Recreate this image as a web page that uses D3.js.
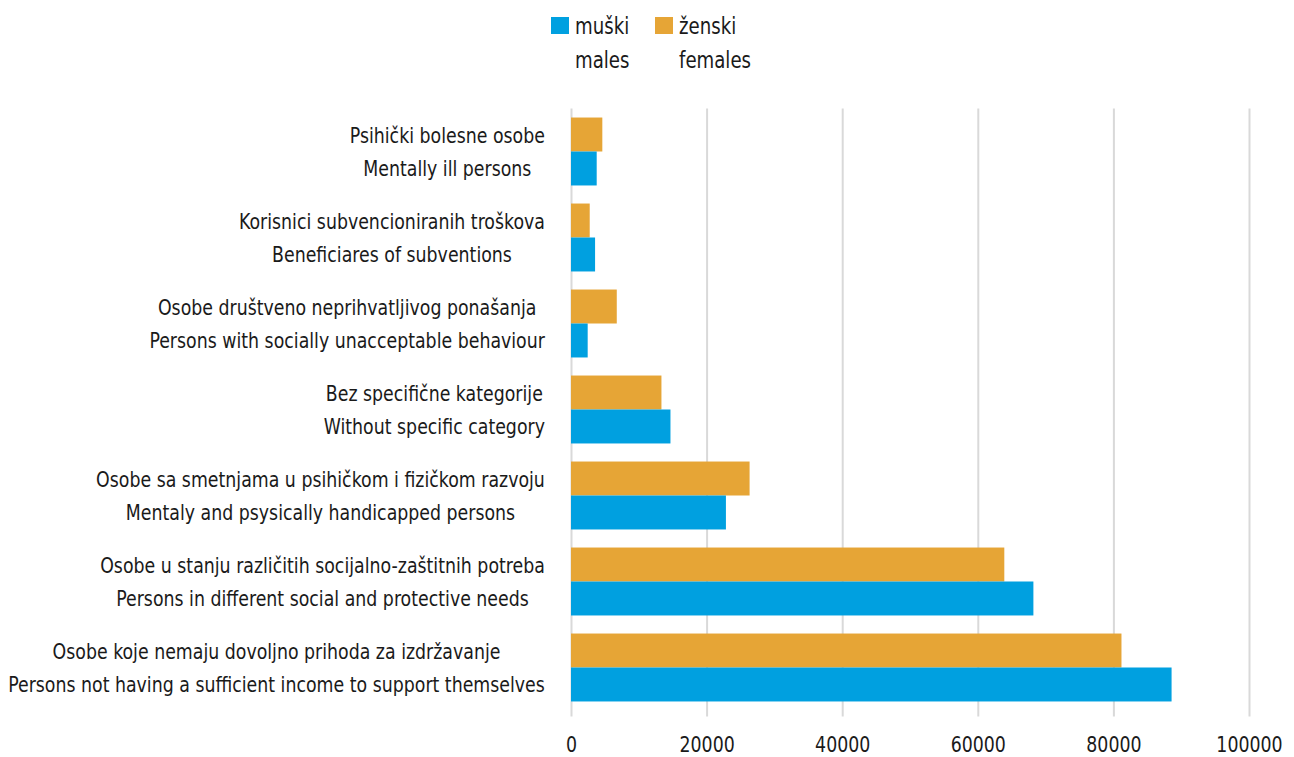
<!DOCTYPE html>
<html>
<head>
<meta charset="utf-8">
<script src="https://cdn.jsdelivr.net/npm/d3@7"></script>
<style>
  body { margin: 0; background: #fff; }
  svg text { font-family: "Liberation Sans Narrow", "DejaVu Sans Condensed", "Roboto Condensed", sans-serif; fill: #1a1a1a; }
</style>
</head>
<body>
<svg id="chart" width="1294" height="757"></svg>
<script>
// categories, two lines each (local language / english)
const categories_hr = [
    "Psihički bolesne osobe",
    "Korisnici subvencioniranih troškova",
    "Osobe društveno neprihvatljivog ponašanja",
    "Bez specifične kategorije",
    "Osobe sa smetnjama u psihičkom  i fizičkom razvoju",
    "Osobe u stanju različitih socijalno-zaštitnih potreba",
    "Osobe koje nemaju dovoljno prihoda za izdržavanje"
];
const categories_en = [
    "Mentally ill persons",
    "Beneficiares of subventions",
    "Persons with socially unacceptable behaviour",
    "Without specific category",
    "Mentaly and psysically handicapped persons",
    "Persons in different social and protective needs",
    "Persons not having a sufficient income to support themselves"
];
const females = [4620, 2760, 6750, 13340, 26340, 63910, 81190];
const males   = [3790, 3550, 2460, 14670, 22850, 68200, 88580];
const series_names = [["ženski", "females"], ["muški", "males"]];
const x_ticks = [0, 20000, 40000, 60000, 80000, 100000];

const colors = { males: "#00A0E0", females: "#E6A536" };
const width = 1294, height = 757;
const margin = { top: 108.5, bottom: 46.5, left: 571, right: 45 };
const font_size = 22;

const svg = d3.select("#chart");

// the reference font is a condensed one; squeeze text horizontally to match
const probe = svg.append("text").attr("font-size", font_size)
    .text(categories_en[6]);
const sx = 537 / probe.node().getComputedTextLength();
probe.remove();

const xscale = d3.scaleLinear()
    .domain([0, 100000])
    .range([margin.left, width - margin.right]);

const yscale = d3.scaleBand()
    .domain(d3.range(categories_hr.length))
    .range([margin.top, height - margin.bottom])
    .paddingInner(0.21)
    .paddingOuter(0.105);

const sub = d3.scaleBand()
    .domain(["females", "males"])
    .range([0, yscale.bandwidth()]);

// gridlines + tick labels
svg.append("g")
    .attr("transform", `translate(0,${height - margin.bottom})`)
    .call(d3.axisBottom(xscale)
        .tickValues(x_ticks)
        .tickFormat(d3.format("d"))
        .tickSize(-(height - margin.bottom - margin.top))
        .tickSizeOuter(0))
    .call(g => g.select(".domain").remove())
    .call(g => g.selectAll(".tick line")
        .attr("stroke", "#d9d9d9")
        .attr("stroke-width", 2)
        .attr("y1", 6))
    .call(g => g.selectAll(".tick text")
        .attr("font-size", font_size)
        .attr("fill", "#1a1a1a")
        .attr("y", 0)
        .attr("dy", "0.35em")
        .attr("transform", `translate(0,34) scale(${sx},1)`)
        .style("font-family", null));

// bars
const rows = categories_hr.map((c, i) => ({ i, females: females[i], males: males[i] }));
const group = svg.append("g")
    .selectAll("g")
    .data(rows)
    .join("g")
    .attr("transform", d => `translate(0,${yscale(d.i)})`);

group.selectAll("rect")
    .data(d => ["females", "males"].map(k => ({ key: k, value: d[k] })))
    .join("rect")
    .attr("x", xscale(0))
    .attr("y", d => sub(d.key))
    .attr("width", d => xscale(d.value) - xscale(0))
    .attr("height", sub.bandwidth())
    .attr("fill", d => colors[d.key]);

// category labels, two centred lines
const labels = svg.append("g");
rows.forEach(d => {
    const cy = yscale(d.i) + yscale.bandwidth() / 2;
    const t = labels.append("g");
    const l1 = t.append("text").attr("font-size", font_size).attr("text-anchor", "middle")
        .attr("y", -16.5).attr("dy", "0.35em").text(categories_hr[d.i]);
    const l2 = t.append("text").attr("font-size", font_size).attr("text-anchor", "middle")
        .attr("y", 16.5).attr("dy", "0.35em").text(categories_en[d.i]);
    const w = Math.max(l1.node().getComputedTextLength(), l2.node().getComputedTextLength()) * sx;
    t.attr("transform", `translate(${545 - w / 2},${cy}) scale(${sx},1)`);
});

// legend
const legend = svg.append("g");
const legend_items = [
    { key: "males", names: series_names[1], x: 551 },
    { key: "females", names: series_names[0], x: 655 }
];
legend_items.forEach(it => {
    legend.append("rect")
        .attr("x", it.x).attr("y", 17)
        .attr("width", 18).attr("height", 17)
        .attr("fill", colors[it.key]);
    const lt = legend.append("g")
        .attr("transform", `translate(${it.x + 24},0) scale(${sx},1)`);
    lt.append("text").attr("font-size", font_size + 1)
        .attr("y", 26).attr("dy", "0.35em").text(it.names[0]);
    lt.append("text").attr("font-size", font_size + 1)
        .attr("y", 60).attr("dy", "0.35em").text(it.names[1]);
});
</script>
</body>
</html>
